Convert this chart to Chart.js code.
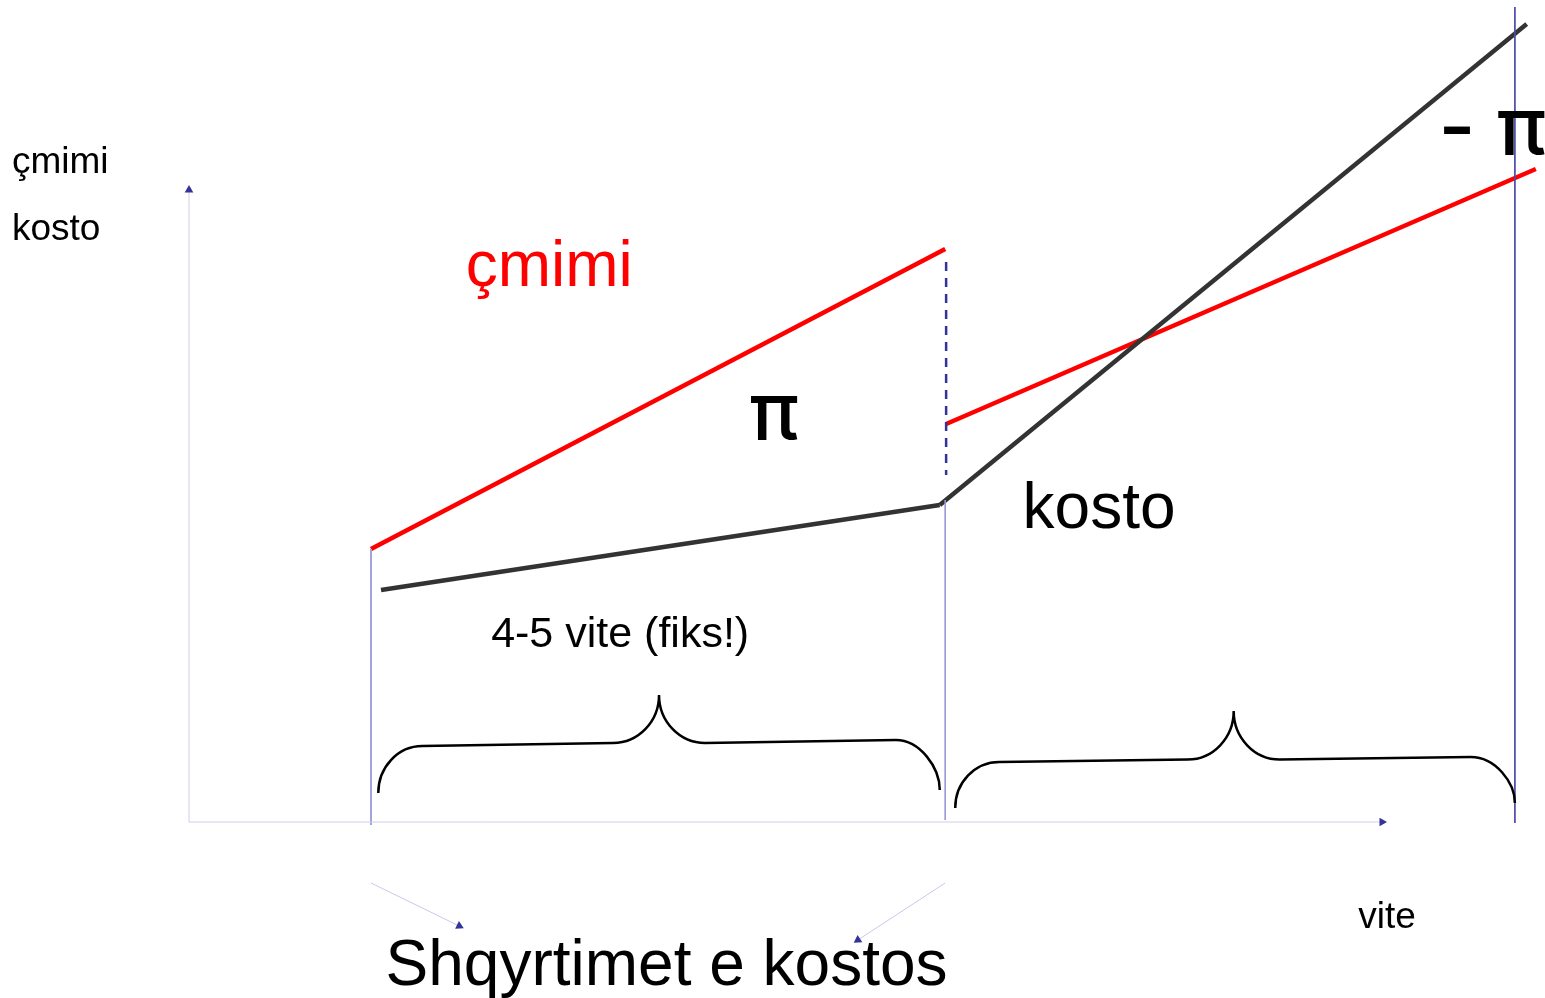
<!DOCTYPE html>
<html>
<head>
<meta charset="utf-8">
<script src="https://cdn.jsdelivr.net/npm/chart.js@4/dist/chart.umd.min.js"></script>
<style>
  html, body { margin: 0; padding: 0; background: #fff; }
  canvas { display: block; }
</style>
</head>
<body>
<canvas id="diagram" width="1545" height="998"></canvas>
<script>
// x = vite (years), y = çmimi / kosto, both in diagram units
const reviewYears = [2.0, 8.31, 14.57];

const priceBefore = [{ x: 2.0, y: 2.73 }, { x: 8.31, y: 5.73 }];
const priceAfter = [{ x: 8.32, y: 3.98 }, { x: 14.8, y: 6.53 }];
const costBefore = [{ x: 2.11, y: 2.32 }, { x: 8.25, y: 3.17 }];
const costAfter = [{ x: 8.25, y: 3.17 }, { x: 14.7, y: 7.98 }];

const yAxisLine = [{ x: 0, y: 0 }, { x: 0, y: 6.32 }];
const xAxisLine = [{ x: 0, y: 0 }, { x: 13.11, y: 0 }];
const review1Line = [{ x: reviewYears[0], y: 2.73 }, { x: reviewYears[0], y: -0.03 }];
const review2Line = [{ x: reviewYears[1], y: 3.22 }, { x: reviewYears[1], y: 0.02 }];
const review2Dash = [{ x: 8.32, y: 5.6 }, { x: 8.32, y: 3.47 }];
const review3Line = [{ x: reviewYears[2], y: 8.15 }, { x: reviewYears[2], y: -0.01 }];
const pointer1 = [{ x: 2.0, y: -0.61 }, { x: 2.97, y: -1.04 }];
const pointer2 = [{ x: 8.31, y: -0.61 }, { x: 7.35, y: -1.18 }];

// braces: left end, right end, tip (x, y) and flat level at each side
const braces = [
  { xl: 2.08, xr: 8.25, xt: 5.165, yEndL: 0.29, yEndR: 0.32, yFlatL: 0.76, yFlatR: 0.82, yTip: 1.27 },
  { xl: 8.42, xr: 14.57, xt: 11.48, yEndL: 0.14, yEndR: 0.19, yFlatL: 0.6, yFlatR: 0.65, yTip: 1.11 }
];

const labels = [
  { text: "çmimi", x: -1.945, y: 6.49, size: 37, color: "#000" },
  { text: "kosto", x: -1.945, y: 5.82, size: 37, color: "#000" },
  { text: "çmimi", x: 3.04, y: 5.36, size: 64, color: "#ff0000" },
  { text: "π", x: 6.16, y: 3.82, size: 80, color: "#000", font: "Inter", weight: 500 },
  { text: "- π", x: 13.73, y: 6.67, size: 80, color: "#000", font: "Inter", weight: 500 },
  { text: "kosto", x: 9.16, y: 2.94, size: 64, color: "#000" },
  { text: "4-5 vite (fiks!)", x: 3.32, y: 1.75, size: 43, color: "#000" },
  { text: "vite", x: 12.85, y: -1.06, size: 37, color: "#000" },
  { text: "Shqyrtimet e kostos", x: 2.16, y: -1.63, size: 64, color: "#000" }
];

const arrowBlue = "#333399";

function seg(data, color, width, extra) {
  return Object.assign({
    data,
    showLine: true,
    borderColor: color,
    borderWidth: width,
    pointRadius: 0,
    borderCapStyle: "butt"
  }, extra || {});
}

function arrow(data, color, rotation) {
  return seg(data, color, 1, {
    pointRadius: [0, 5],
    pointStyle: "triangle",
    pointRotation: rotation,
    pointBackgroundColor: arrowBlue,
    pointBorderColor: arrowBlue,
    pointBorderWidth: 0
  });
}

const bracePlugin = {
  id: "braces",
  afterDatasetsDraw(chart) {
    const { ctx, scales: { x, y } } = chart;
    const k = 0.552;
    ctx.save();
    ctx.strokeStyle = "#000";
    ctx.lineWidth = 2.5;
    braces.forEach((b) => {
      const L = x.getPixelForValue(b.xl);
      const R = x.getPixelForValue(b.xr);
      const T = x.getPixelForValue(b.xt);
      const eL = y.getPixelForValue(b.yEndL);
      const eR = y.getPixelForValue(b.yEndR);
      const fL = y.getPixelForValue(b.yFlatL);
      const fR = y.getPixelForValue(b.yFlatR);
      const t = y.getPixelForValue(b.yTip);
      const fM = (fL + fR) / 2;
      const r = 44, r2 = 46;
      ctx.beginPath();
      ctx.moveTo(L, eL);
      ctx.bezierCurveTo(L, eL - k * (eL - fL), L + r - k * r, fL, L + r, fL);
      ctx.lineTo(T - r2, fM);
      ctx.bezierCurveTo(T - r2 + k * r2, fM, T, t + k * (fM - t), T, t);
      ctx.bezierCurveTo(T, t + k * (fM - t), T + r2 - k * r2, fM, T + r2, fM);
      ctx.lineTo(R - r, fR);
      ctx.bezierCurveTo(R - r + k * r, fR, R, fR + k * (eR - fR), R, eR);
      ctx.stroke();
    });
    ctx.restore();
  }
};

const labelPlugin = {
  id: "labels",
  afterDatasetsDraw(chart) {
    const { ctx, scales: { x, y } } = chart;
    ctx.save();
    ctx.textAlign = "left";
    ctx.textBaseline = "alphabetic";
    labels.forEach((l) => {
      ctx.font = (l.weight || 400) + " " + l.size + "px " + (l.font || "'Liberation Sans', Arial") + ", sans-serif";
      ctx.fillStyle = l.color;
      ctx.fillText(l.text, x.getPixelForValue(l.x), y.getPixelForValue(l.y));
    });
    ctx.restore();
  }
};

new Chart(document.getElementById("diagram"), {
  type: "scatter",
  data: {
    datasets: [
      arrow(yAxisLine, "#cfcfea", 0),
      arrow(xAxisLine, "#cfcfea", 90),
      arrow(pointer1, "#c8c8ee", 116),
      arrow(pointer2, "#c8c8ee", 237),
      seg(review1Line, "#a4a4dc", 2),
      seg(review2Line, "#9a9ad6", 1),
      seg(review3Line, "#4a4aa8", 1),
      seg(review2Dash, "#333399", 2.5, { borderDash: [9, 7] }),
      seg(costBefore, "#333333", 4.5),
      seg(costAfter, "#333333", 4.5),
      seg(priceBefore, "#ff0000", 4.5),
      seg(priceAfter, "#ff0000", 4.5)
    ]
  },
  options: {
    responsive: false,
    animation: false,
    devicePixelRatio: 1,
    layout: { padding: 0, autoPadding: false },
    plugins: { legend: { display: false }, tooltip: { enabled: false } },
    scales: {
      x: { type: "linear", display: false, min: -2.077, max: 14.901 },
      y: { type: "linear", display: false, min: -1.76, max: 8.22 }
    }
  },
  plugins: [bracePlugin, labelPlugin]
});
</script>
</body>
</html>
